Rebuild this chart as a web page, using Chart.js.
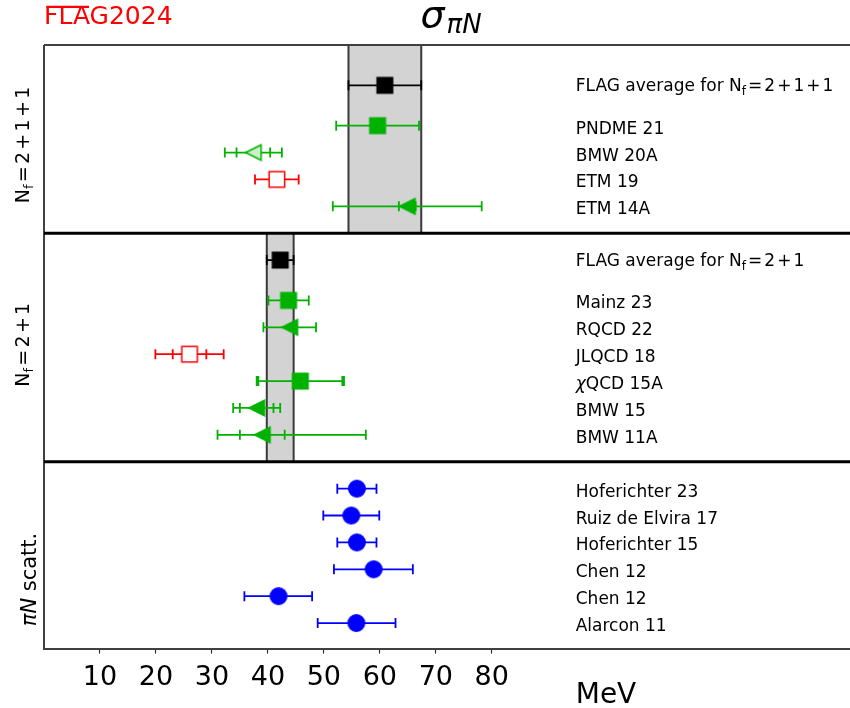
<!DOCTYPE html>
<html>
<head>
<meta charset="utf-8">
<script src="https://cdn.jsdelivr.net/npm/chart.js@4.4.1/dist/chart.umd.min.js"></script>
<style>
html,body{margin:0;padding:0;background:#fff;}
#wrap{width:850px;height:708px;position:relative;}
</style>
</head>
<body>
<div id="wrap"><canvas id="c" width="850" height="708"></canvas></div>
<script>
// ---------------- data ----------------
const labels = ["FLAG average for N_f=2+1+1","PNDME 21","BMW 20A","ETM 19","ETM 14A",
                "FLAG average for N_f=2+1","Mainz 23","RQCD 22","JLQCD 18","χQCD 15A","BMW 15","BMW 11A",
                "Hoferichter 23","Ruiz de Elvira 17","Hoferichter 15","Chen 12","Chen 12","Alarcon 11"];
const panelOf   = [0,0,0,0,0, 1,1,1,1,1,1,1, 2,2,2,2,2,2];
const isAverage = [1,0,0,0,0, 1,0,0,0,0,0,0, 0,0,0,0,0,0];
const sigmaValues = [60.9,59.6,37.4,41.6,64.9, 42.2,43.7,43.9,26.0,45.8,38.0,39.0, 55.9,54.9,55.9,58.9,41.9,55.8];
const errMinus    = [6.5,7.4,5.1,3.9,13.3, 2.4,3.6,4.7,6.1,7.8,4.2,8.0, 3.5,5.0,3.5,7.1,6.1,6.9];
const errPlus     = [6.5,7.4,5.1,3.9,13.3, 2.4,3.6,4.7,6.1,7.8,4.2,18.5, 3.5,5.0,3.5,7.0,6.0,7.0];
const statErr     = [null,null,3.0,null,1.5, null,null,null,3.0,7.5,3.0,4.0, null,null,null,null,null,null];
const panelTitles = ["N_f=2+1+1","N_f=2+1","πN scatt."];
const tickValues  = [10,20,30,40,50,60,70,80];
const axisUnit    = "MeV";

// ---------------- styles ----------------
const GREEN = 'rgb(0,178,0)', RED = '#ff0000', BLUE = '#0000ff', BLACK = '#000000';
const markerShape = ['s','s','<','s','<', 's','s','<','s','s','<','<', 'o','o','o','o','o','o'];
const markerColor = [BLACK,GREEN,GREEN,RED,GREEN, BLACK,GREEN,GREEN,RED,GREEN,GREEN,GREEN, BLUE,BLUE,BLUE,BLUE,BLUE,BLUE];
const markerOpen  = [0,0,1,1,0, 0,0,0,1,0,0,0, 0,0,0,0,0,0];
const FONT = '"DejaVu Sans", "Liberation Sans", sans-serif';

// row positions (category layout), from bottom panel upwards
const rowY = new Array(labels.length);
const panelRange = [];
(function(){
  let y = 1, bottom = 0.05;
  for (let p = 2; p >= 0; p--) {
    const idx = labels.map((_, i) => i).filter(i => panelOf[i] === p);
    const reg = idx.filter(i => !isAverage[i]).reverse();
    reg.forEach(i => { rowY[i] = y; y += 1; });
    const avg = idx.find(i => isAverage[i]);
    let top;
    if (avg !== undefined) { rowY[avg] = y - 1 + 1.5; top = rowY[avg] + 1; if (p === 0) top = rowY[avg] + 1.5; }
    else top = y;
    panelRange[p] = [bottom, top];
    bottom = top; y = top + 1;
  }
})();
const Y_MIN = panelRange[2][0], Y_MAX = panelRange[0][1];

function markerCanvas(shape, color, open) {
  const s = 15.5, lw = 1.5, size = 20;
  const c = document.createElement('canvas'); c.width = size; c.height = size;
  const g = c.getContext('2d');
  const cx = size / 2, cy = size / 2, h = s / 2;
  g.beginPath();
  if (shape === 's') g.rect(cx - h, cy - h, s, s);
  else if (shape === '<') { g.moveTo(cx - h, cy); g.lineTo(cx + h, cy - h); g.lineTo(cx + h, cy + h); g.closePath(); }
  else g.arc(cx, cy, h + 0.5, 0, Math.PI * 2);
  g.fillStyle = open ? (shape === '<' ? '#c8efc8' : '#ffffff') : color;
  g.fill();
  g.lineWidth = lw; g.strokeStyle = color; g.lineJoin = 'miter'; g.stroke();
  return c;
}
const markers = labels.map((_, i) => markerCanvas(markerShape[i], markerColor[i], markerOpen[i]));

// rich text helper
function segsWidth(ctx, segs) {
  let w = 0;
  for (const s of segs) { ctx.font = s.font; w += (s.pre || 0) + ctx.measureText(s.t).width + (s.post || 0); }
  return w;
}
function drawSegs(ctx, x, y, segs) {
  let cx = x;
  for (const s of segs) {
    ctx.font = s.font; cx += (s.pre || 0);
    ctx.fillText(s.t, cx, y + (s.dy || 0));
    cx += ctx.measureText(s.t).width + (s.post || 0);
  }
}
function labelSegs(text, size) {
  const reg = size + 'px ' + FONT, ita = 'italic ' + size + 'px ' + FONT;
  const sub = Math.round(size * 0.7) + 'px ' + FONT;
  const segs = [];
  const k = text.indexOf('N_f=');
  if (k >= 0) {
    if (k > 0) segs.push({t: text.slice(0, k), font: reg});
    segs.push({t: 'N', font: reg});
    segs.push({t: 'f', font: sub, dy: size * 0.22});
    for (const ch of text.slice(k + 3)) {
      if (ch === '=' || ch === '+') segs.push({t: ch, font: reg, pre: size * 0.12, post: size * 0.12});
      else segs.push({t: ch, font: reg});
    }
    return segs;
  }
  if (text.startsWith('χ')) { segs.push({t: 'χ', font: ita}); segs.push({t: text.slice(1), font: reg}); return segs; }
  if (text.startsWith('πN')) { segs.push({t: 'πN', font: ita}); segs.push({t: text.slice(2), font: reg}); return segs; }
  segs.push({t: text, font: reg});
  return segs;
}

const decor = {
  id: 'decor',
  beforeDatasetsDraw(chart) {
    const {ctx, chartArea: a, scales: {x, y}} = chart;
    ctx.save();
    // averages bands
    labels.forEach((_, i) => {
      if (!isAverage[i]) return;
      const p = panelOf[i];
      const x1 = x.getPixelForValue(sigmaValues[i] - errMinus[i]);
      const x2 = x.getPixelForValue(sigmaValues[i] + errPlus[i]);
      const yT = y.getPixelForValue(panelRange[p][1]);
      const yB = y.getPixelForValue(panelRange[p][0]);
      ctx.fillStyle = '#d3d3d3';
      ctx.fillRect(x1, yT, x2 - x1, yB - yT);
      ctx.strokeStyle = '#3a3a3a'; ctx.lineWidth = 2;
      ctx.beginPath(); ctx.moveTo(x1, yT); ctx.lineTo(x1, yB); ctx.moveTo(x2, yT); ctx.lineTo(x2, yB); ctx.stroke();
    });
    // frame: top and left
    ctx.strokeStyle = '#404040'; ctx.lineWidth = 2;
    ctx.beginPath(); ctx.moveTo(a.left, a.top); ctx.lineTo(a.right, a.top);
    ctx.moveTo(a.left, a.top); ctx.lineTo(a.left, a.bottom); ctx.stroke();
    // dividers
    ctx.strokeStyle = '#000'; ctx.lineWidth = 3;
    for (let p = 0; p < 2; p++) {
      const yy = y.getPixelForValue(panelRange[p][0]);
      ctx.beginPath(); ctx.moveTo(a.left, yy); ctx.lineTo(a.right, yy); ctx.stroke();
    }
    // error bars
    const cap = 5;
    labels.forEach((_, i) => {
      const yy = y.getPixelForValue(rowY[i]);
      const xl = x.getPixelForValue(sigmaValues[i] - errMinus[i]);
      const xr = x.getPixelForValue(sigmaValues[i] + errPlus[i]);
      ctx.strokeStyle = markerColor[i]; ctx.lineWidth = 1.8;
      ctx.beginPath();
      ctx.moveTo(xl, yy); ctx.lineTo(xr, yy);
      ctx.moveTo(xl, yy - cap); ctx.lineTo(xl, yy + cap);
      ctx.moveTo(xr, yy - cap); ctx.lineTo(xr, yy + cap);
      if (statErr[i] != null) {
        const sl = x.getPixelForValue(sigmaValues[i] - statErr[i]);
        const sr = x.getPixelForValue(sigmaValues[i] + statErr[i]);
        ctx.moveTo(sl, yy - cap); ctx.lineTo(sl, yy + cap);
        ctx.moveTo(sr, yy - cap); ctx.lineTo(sr, yy + cap);
      }
      ctx.stroke();
    });
    ctx.restore();
  },
  afterDraw(chart) {
    const {ctx, chartArea: a, scales: {x, y}} = chart;
    ctx.save();
    ctx.fillStyle = '#000'; ctx.textBaseline = 'alphabetic'; ctx.textAlign = 'left';
    // row labels
    const lx = x.getPixelForValue(95);
    labels.forEach((t, i) => {
      const yy = y.getPixelForValue(rowY[i]);
      drawSegs(ctx, lx, yy + (isAverage[i] ? 6 : 8), labelSegs(t, 17));
    });
    // panel titles (rotated)
    const titleCenters = [18.78, 11.35, 2.62];
    const titleBase = [29, 29, 36];
    panelTitles.forEach((t, p) => {
      const segs = labelSegs(t, p === 2 ? 21 : 19);
      const w = segsWidth(ctx, segs);
      ctx.save();
      ctx.translate(titleBase[p], y.getPixelForValue(titleCenters[p]));
      ctx.rotate(-Math.PI / 2);
      drawSegs(ctx, -w / 2, 0, segs);
      ctx.restore();
    });
    // main title sigma_{pi N}
    const tsegs = [{t: 'σ', font: 'italic 38px ' + FONT}, {t: 'πN', font: 'italic 26px ' + FONT, dy: 6, pre: 2}];
    const tw = segsWidth(ctx, tsegs);
    drawSegs(ctx, 451 - tw / 2, 27, tsegs);
    // unit label
    ctx.font = '28px ' + FONT;
    ctx.fillText(axisUnit, lx, 703);
    // FLAG logo
    ctx.fillStyle = RED; ctx.strokeStyle = RED;
    ctx.font = '25px ' + FONT;
    const fx = a.left, fy = 24;
    ctx.fillText('FLAG2024', fx, fy);
    const wFLA = ctx.measureText('FLA').width;
    ctx.lineWidth = 2.2;
    ctx.beginPath(); ctx.moveTo(fx + 2.5, fy - 17.2); ctx.lineTo(fx + wFLA - 1, fy - 17.2); ctx.stroke();
    ctx.restore();
  }
};

const points = labels.map((_, i) => ({x: sigmaValues[i], y: rowY[i]}));

new Chart(document.getElementById('c').getContext('2d'), {
  type: 'scatter',
  data: {
    datasets: [{
      data: points,
      pointStyle: c => markers[c.dataIndex],
      pointRadius: 8,
      pointHoverRadius: 8,
      showLine: false
    }]
  },
  options: {
    responsive: false,
    animation: false,
    devicePixelRatio: 1,
    events: [],
    layout: {autoPadding: false, padding: {left: 44, right: 0, top: 45, bottom: 6}},
    plugins: {legend: {display: false}, tooltip: {enabled: false}},
    scales: {
      x: {
        type: 'linear', min: 0, max: 144, position: 'bottom',
        afterBuildTicks: axis => { axis.ticks = tickValues.map(v => ({value: v})); },
        ticks: {font: {family: 'DejaVu Sans', size: 27}, color: '#000', padding: 8, maxRotation: 0, autoSkip: false,
                callback: v => String(v)},
        grid: {display: true, drawOnChartArea: false, drawTicks: true, tickLength: 5, tickWidth: 1.2, tickColor: '#333'},
        border: {display: true, color: '#404040', width: 2}
      },
      y: {type: 'linear', display: false, min: Y_MIN, max: Y_MAX}
    }
  },
  plugins: [decor]
});
</script>
</body>
</html>
